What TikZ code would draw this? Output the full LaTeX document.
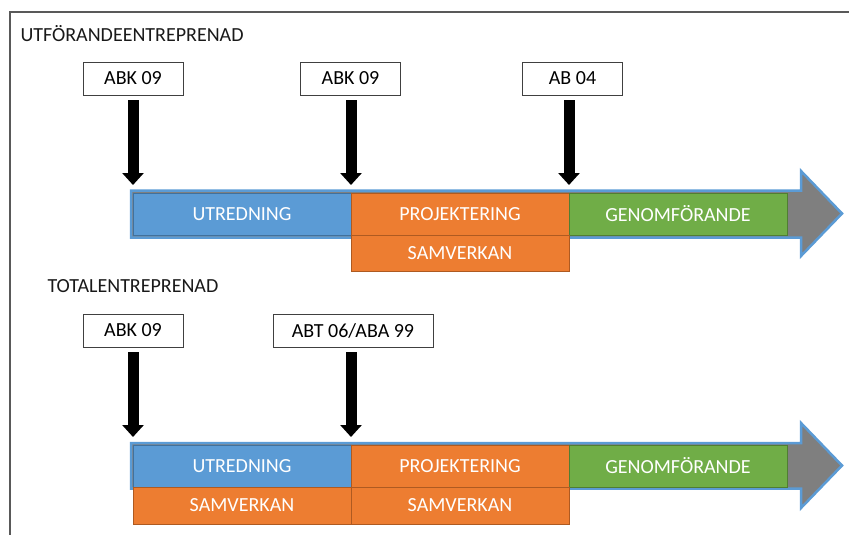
\documentclass[tikz,border=0pt]{standalone}
\usepackage{fontspec}
\setmainfont{Carlito}
\usetikzlibrary{arrows.meta,positioning}
\definecolor{faseblaa}{HTML}{5B9BD5}
\definecolor{faseblaakant}{HTML}{41719C}
\definecolor{faseorange}{HTML}{ED7D31}
\definecolor{faseorangekant}{HTML}{AE5A21}
\definecolor{fasegron}{HTML}{70AD47}
\definecolor{fasegronkant}{HTML}{507E32}
\definecolor{pilgra}{HTML}{7F7F7F}
\definecolor{ramgra}{HTML}{595959}
\tikzset{
  ram/.style={draw=ramgra, line width=1.5pt},
  rubrik/.style={anchor=west, text=black!90, font=\fontsize{20}{22}\selectfont},
  avtal/.style={draw=black!75, fill=white, line width=0.8pt, minimum height=33pt,
    minimum width=100pt, inner sep=0pt, font=\fontsize{20}{22}\selectfont},
  pil/.style={-{Triangle[width=21pt,length=12pt]}, line width=11pt, draw=black,
    shorten <=5pt, shorten >=8pt},
  tidslinje/.style={fill=pilgra, draw=faseblaa, line width=2.5pt, line join=miter},
  fas/.style={minimum height=42pt, minimum width=218pt, inner sep=0pt, outer sep=0pt,
    line width=0.8pt, text=white, font=\fontsize{20}{22}\selectfont},
  utr/.style={fas, fill=faseblaa, draw=faseblaakant},
  proj/.style={fas, fill=faseorange, draw=faseorangekant},
  samv/.style={fas, fill=faseorange, draw=faseorangekant, minimum height=37pt},
  genf/.style={fas, fill=fasegron, draw=fasegronkant}
}
\begin{document}
\begin{tikzpicture}[x=1pt, y=-1pt]
  \useasboundingbox (0,0) rectangle (849,535);
  \draw[ram] (10,535) -- (10,12) -- (849,12);

  % utförandeentreprenad
  \node[rubrik] (rubrikA) at (17,34) {UTFÖRANDEENTREPRENAD};
  \draw[tidslinje] (131,190.5) -- (801,190.5) -- (801,171) -- (842,213.5)
    -- (801,256) -- (801,237.5) -- (131,237.5) -- cycle;
  \node[utr, anchor=west] (utrA) at (133,214) {UTREDNING};
  \node[proj, right=0pt of utrA] (projA) {PROJEKTERING};
  \node[genf, right=0pt of projA] (genA) {GENOMFÖRANDE};
  \node[samv, below=0pt of projA, minimum height=36pt] (samvA) {SAMVERKAN};

  \node[avtal] (abkA) at (133,78.5) {ABK 09};
  \node[avtal] (abkB) at (350.5,78.5) {ABK 09};
  \node[avtal] (abA) at (572.5,78.5) {AB 04};
  \draw[pil] (abkA.south) -- (utrA.north west);
  \draw[pil] (abkB.south -| projA.north west) -- (projA.north west);
  \draw[pil] (abA.south -| genA.north west) -- (genA.north west);

  % totalentreprenad
  \node[rubrik] (rubrikB) at (44,286) {TOTALENTREPRENAD};
  \draw[tidslinje] (131,443) -- (801,443) -- (801,423) -- (842,465.5)
    -- (801,508) -- (801,488.5) -- (131,488.5) -- cycle;
  \node[utr, anchor=west] (utrB) at (133,466) {UTREDNING};
  \node[proj, right=0pt of utrB] (projB) {PROJEKTERING};
  \node[genf, right=0pt of projB] (genB) {GENOMFÖRANDE};
  \node[samv, below=0pt of utrB] (samvB) {SAMVERKAN};
  \node[samv, below=0pt of projB] (samvC) {SAMVERKAN};

  \node[avtal] (abkC) at (133,330.5) {ABK 09};
  \node[avtal, minimum width=160pt] (abtC) at (353,330.5) {ABT 06/ABA 99};
  \draw[pil] (abkC.south) -- (utrB.north west);
  \draw[pil] (abtC.south -| projB.north west) -- (projB.north west);
\end{tikzpicture}
\end{document}
